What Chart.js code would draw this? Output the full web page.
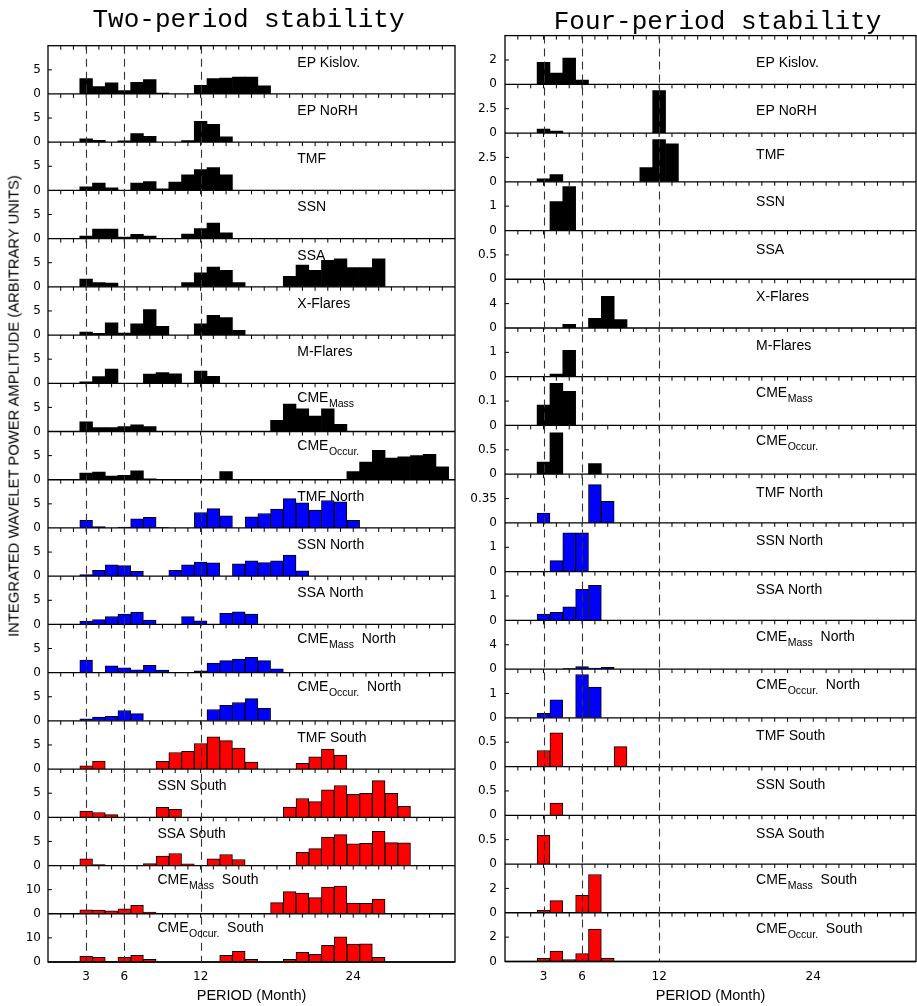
<!DOCTYPE html>
<html>
<head>
<meta charset="utf-8">
<script src="https://cdn.jsdelivr.net/npm/chart.js@4.4.1/dist/chart.umd.min.js"></script>
<style>
html, body { margin: 0; padding: 0; background: #fff; width: 917px; height: 1006px; overflow: hidden; position: relative; }
canvas { position: absolute; top: 0; }
#cL { left: 0; }
#cR { left: 460px; }
.title { position: absolute; font-family: "Liberation Mono", "DejaVu Sans Mono", monospace; font-size: 26px; line-height: 26px; white-space: nowrap; transform: translateX(-50%); color: #000; }
#ylab { position: absolute; left: 13.5px; top: 406px; font-family: "Liberation Sans", Arial, sans-serif; font-size: 14.8px; line-height: 1; white-space: nowrap; color: #000; transform: translate(-50%, -50%) rotate(-90deg); }
</style>
</head>
<body>
<canvas id="cL" width="460" height="1006"></canvas>
<canvas id="cR" width="457" height="1006"></canvas>
<div class="title" style="left:248.5px; top:6.6px;">Two-period stability</div>
<div class="title" style="left:717.5px; top:8.6px;">Four-period stability</div>
<div id="ylab">INTEGRATED WAVELET POWER AMPLITUDE (ARBITRARY UNITS)</div>
<script>
// ---------- categories / ticks ----------
const months = [1,2,3,4,5,6,7,8,9,10,11,12,13,14,15,16,17,18,19,20,21,22,23,24,25,26,27,28,29,30,31];
const xTickValues = [3, 6, 12, 24];
const refPeriods = [3, 6, 12];
const panelNames = ['EP Kislov.', 'EP NoRH', 'TMF', 'SSN', 'SSA', 'X-Flares', 'M-Flares',
  'CME_Mass', 'CME_Occur.', 'TMF North', 'SSN North', 'SSA North', 'CME_Mass  North',
  'CME_Occur.  North', 'TMF South', 'SSN South', 'SSA South', 'CME_Mass  South', 'CME_Occur.  South'];
const panelGroups = ['all','all','all','all','all','all','all','all','all',
  'north','north','north','north','north','south','south','south','south','south'];

// ---------- Two-period stability (values by month, starting at month 1) ----------
const L_EPKislov      = [0,0,3.2,1.5,2.3,0.7,2.4,3.0,0.2,0,0,1.8,3.2,3.3,3.5,3.5,1.7];
const L_EPNoRH        = [0,0,0.7,0.4,0,0.3,1.8,1.2,0,0,0.35,4.3,3.7,1.1];
const L_TMF           = [0,0,0.75,1.5,0.55,0,1.5,1.85,0.3,1.7,3.2,4.3,4.75,3.2];
const L_SSN           = [0,0,0.5,2.0,2.0,0.3,0.9,0.5,0,0,0.95,2.1,3.2,1.2];
const L_SSA           = [0,0,1.6,0.9,0.8,0,0,0,0,0,0.9,2.9,4.1,3.4,0.9,0,0,0,2.2,4.5,3.4,5.5,5.8,4.0,4.0,5.8];
const L_XFlares       = [0,0,0.6,0.35,2.55,0.4,2.35,5.3,1.8,0,0,2.35,4.1,3.6,1.0];
const L_MFlares       = [0,0,0.3,1.4,2.95,0,0,1.9,2.2,1.95,0,2.55,1.45];
const L_CMEMass       = [0,0,2.0,0.8,0.8,1.0,1.4,1.0,0,0,0,0,0,0,0,0,0,2.3,5.7,4.7,3.2,4.7,1.5];
const L_CMEOccur      = [0,0,1.4,1.6,0.75,0.9,1.85,0.2,0,0,0,0,0,1.7,0,0,0,0,0,0,0,0,0,1.7,3.65,6.1,4.5,4.75,5.0,5.25,2.7];
const L_TMFNorth      = [0,0,1.6,0.3,0,0.2,1.9,2.2,0.1,0,0,3.2,4.0,2.5,0,2.3,3.0,3.9,6.1,5.2,3.7,5.7,5.4,1.6];
const L_SSNNorth      = [0,0,0.35,1.2,2.35,2.2,1.0,0,0,1.2,2.35,2.9,2.75,0,2.55,3.2,2.8,3.2,4.4,1.1];
const L_SSANorth      = [0,0,0.7,1.0,1.65,2.15,2.55,0.9,0,0,1.6,0.75,0,2.3,2.6,2.15];
const L_CMEMassNorth  = [0,0,2.6,0,1.4,1.0,0.6,1.5,0.55,0,0,0.35,2.0,2.5,2.8,3.2,2.5,0.8];
const L_CMEOccurNorth = [0,0,0.4,0.8,0.95,2.15,1.5,0,0,0,0,0,2.35,3.2,3.8,4.6,2.6];
const L_TMFSouth      = [0,0,0.7,1.65,0,0,0,0,1.6,3.45,3.7,5.3,6.7,5.9,4.35,1.45,0,0,0,1.2,2.55,4.15,2.9];
const L_SSNSouth      = [0,0,1.3,1.0,0.55,0,0,0,2.05,1.65,0,0,0,0,0,0,0,0,2.1,3.9,3.25,5.7,6.6,4.75,5.0,7.6,5.0,2.3];
const L_SSASouth      = [0,0,1.4,0.2,0,0,0,0.4,1.95,2.5,0.35,0,1.4,2.3,1.25,0,0,0,0,2.75,3.5,5.9,6.4,4.5,4.6,7.1,4.75,4.7];
const L_CMEMassSouth  = [0,0,1.65,1.5,1.25,2.1,3.5,0.7,0,0,0,0,0,0,0,0,0,4.6,9.2,8.6,6.7,11.1,11.5,4.45,4.3,6.1];
const L_CMEOccurSouth = [0,0,2.35,1.95,0.3,1.95,2.8,1.1,0,0,0,0,0,2.8,4.45,1.1,0,0,1.1,4.0,3.2,6.9,10.4,7.4,7.5,1.95];
const leftAxisMax     = [10,10,10,10,10,10,10,10,10,10,10,10,10,10,10,10,10,20,20];

// ---------- Four-period stability ----------
const R_EPKislov      = [0,0,1.8,0.92,2.15,0.35];
const R_EPNoRH        = [0,0,0.4,0.2,0,0,0,0,0,0,0,4.36];
const R_TMF           = [0,0,0.3,0.73,0,0,0,0,0,0,1.46,4.34,3.9];
const R_SSN           = [0,0,0,1.19,1.8];
const R_SSA           = [];
const R_XFlares       = [0,0,0,0,0.6,0,1.6,5.2,1.37];
const R_MFlares       = [0,0,0,0.11,1.08];
const R_CMEMass       = [0,0,0.084,0.173,0.14];
const R_CMEOccur      = [0,0,0.25,0.85,0,0,0.22];
const R_TMFNorth      = [0,0,0.14,0,0,0,0.55,0.31];
const R_SSNNorth      = [0,0,0,0.45,1.59,1.59];
const R_SSANorth      = [0,0,0.26,0.33,0.56,1.27,1.44];
const R_CMEMassNorth  = [0,0,0,0,0.1,0.4,0.17,0.28];
const R_CMEOccurNorth = [0,0,0.19,0.74,0,1.78,1.26];
const R_TMFSouth      = [0,0,0.33,0.69,0,0,0,0,0.41];
const R_SSNSouth      = [0,0,0,0.25];
const R_SSASouth      = [0,0,0.59];
const R_CMEMassSouth  = [0,0,0.19,1.0,0,1.43,3.14];
const R_CMEOccurSouth = [0,0,0.27,0.85,0.16,0.66,2.66,0.27];
const rightAxisMax    = [4,5,5,2,1,8,2,0.2,1,0.7,2,2,8,2,1,1,1,4,4];

const leftSeries = [L_EPKislov, L_EPNoRH, L_TMF, L_SSN, L_SSA, L_XFlares, L_MFlares, L_CMEMass, L_CMEOccur,
  L_TMFNorth, L_SSNNorth, L_SSANorth, L_CMEMassNorth, L_CMEOccurNorth,
  L_TMFSouth, L_SSNSouth, L_SSASouth, L_CMEMassSouth, L_CMEOccurSouth];
const rightSeries = [R_EPKislov, R_EPNoRH, R_TMF, R_SSN, R_SSA, R_XFlares, R_MFlares, R_CMEMass, R_CMEOccur,
  R_TMFNorth, R_SSNNorth, R_SSANorth, R_CMEMassNorth, R_CMEOccurNorth,
  R_TMFSouth, R_SSNSouth, R_SSASouth, R_CMEMassSouth, R_CMEOccurSouth];

// ---------- styling / layout (kept apart from the data) ----------
const groupColor = { all: '#000000', north: '#0000ff', south: '#ff0000' };
const SANS = '"Liberation Sans", Arial, sans-serif';
const TICKFONT = { family: '"DejaVu Sans", sans-serif', size: 12 };
const rightLabelDrop = [31, 30.7, 26.4, 24.4, 23, 21.8, 22.4, 19.8, 20, 22.5, 22, 22.5, 20.5, 20, 22.5, 22.6, 23, 20, 20.4];
Chart.defaults.font.family = SANS;

const fmt = v => String(Math.round(v * 1000) / 1000);

function drawLabel(ctx, text, x, y) {
  const m = text.match(/^([^_]*)_(\S+)(.*)$/);
  ctx.fillStyle = '#000';
  ctx.textAlign = 'left';
  ctx.textBaseline = 'alphabetic';
  const mainF = '14px ' + SANS;
  const subF = '10.5px ' + SANS;
  ctx.font = mainF;
  if (!m) { ctx.fillText(text, x, y); return; }
  ctx.fillText(m[1], x, y);
  let cx = x + ctx.measureText(m[1]).width + 0.5;
  ctx.font = subF;
  ctx.fillText(m[2], cx, y + 5);
  cx += ctx.measureText(m[2]).width;
  ctx.font = mainF;
  ctx.fillText(m[3], cx, y);
}

const decor = {
  id: 'decor',
  afterDatasetsDraw(chart, args, o) {
    const { ctx, chartArea: a, scales } = chart;
    const xs = scales.x;
    const line = (x1, y1, x2, y2) => { ctx.beginPath(); ctx.moveTo(x1, y1); ctx.lineTo(x2, y2); ctx.stroke(); };
    ctx.save();
    ctx.strokeStyle = '#000';
    for (let i = 0; i < o.n; i++) {
      const ys = scales['y' + i];
      ctx.lineWidth = 1.3;
      const y0 = ys.getPixelForValue(0);
      line(a.left, y0, a.right, y0);
      ctx.lineWidth = 1;
      for (const mth of months) {
        const x = xs.getPixelForValue(mth);
        line(x, ys.top, x, ys.top + 4);
      }
      const t = ys.ticks[1];
      if (t) { const yt = ys.getPixelForValue(t.value); line(a.left, yt, a.left + 4, yt); }
    }
    ctx.lineWidth = 1.3;
    ctx.strokeRect(a.left, a.top, a.right - a.left, a.bottom - a.top);
    ctx.setLineDash([8, 5]);
    ctx.strokeStyle = '#333';
    ctx.lineWidth = 1.1;
    for (const p of refPeriods) {
      const x = Math.round(xs.getPixelForValue(p)) + 0.5;
      line(x, a.top, x, a.bottom);
    }
    ctx.setLineDash([]);
    for (let i = 0; i < o.n; i++) {
      const ys = scales['y' + i];
      const name = panelNames[i];
      const at = (o.lowNames && o.lowNames.includes(name)) ? o.lowAt : o.labelAt;
      const off = o.drops ? o.drops[i] : (name.includes('_') ? o.subOff : o.plainOff);
      drawLabel(ctx, name, xs.getPixelForValue(at), ys.top + off);
    }
    ctx.restore();
  }
};

function buildChart(id, series, maxes, geom) {
  const scales = {
    x: {
      type: 'linear', position: 'bottom', min: 0, max: 32, offset: false,
      afterBuildTicks: s => { s.ticks = xTickValues.map(v => ({ value: v })); },
      ticks: { autoSkip: false, maxRotation: 0, padding: 8, font: TICKFONT, color: '#000', callback: v => String(v) },
      grid: { display: false, drawTicks: false, offset: false },
      border: { display: false },
      title: { display: true, text: 'PERIOD (Month)', color: '#000', font: { family: SANS, size: 14.5 }, padding: { top: 0, bottom: 1.3 } },
      afterFit: s => { s.height = geom.xh; }
    }
  };
  for (let i = series.length - 1; i >= 0; i--) {
    const mx = maxes[i];
    scales['y' + i] = {
      type: 'linear', position: 'left', stack: 'col', stackWeight: 1,
      min: 0, max: mx,
      ticks: { stepSize: mx / 2, autoSkip: false, padding: geom.tp, font: TICKFONT, color: '#000',
        callback: (v, idx) => idx === 0 ? '0' : (idx === 1 ? fmt(v) : '') },
      grid: { display: false, drawTicks: false },
      border: { display: false },
      afterFit: s => { s.width = geom.yw; }
    };
  }
  const datasets = series.map((vals, i) => {
    const g = panelGroups[i];
    return {
      label: panelNames[i],
      yAxisID: 'y' + i,
      xAxisID: 'x',
      grouped: false,
      barPercentage: 1,
      categoryPercentage: 1,
      backgroundColor: groupColor[g],
      borderColor: '#000',
      borderWidth: g === 'all' ? 0 : 1,
      borderSkipped: 'bottom',
      data: vals.map((v, k) => v ? { x: months[k], y: v } : null).filter(Boolean)
    };
  });
  return new Chart(document.getElementById(id), {
    type: 'bar',
    data: { datasets },
    options: {
      responsive: false,
      animation: false,
      events: [],
      layout: { padding: geom.pad },
      plugins: {
        legend: { display: false },
        tooltip: { enabled: false },
        decor: geom.decor
      },
      scales
    },
    plugins: [decor]
  });
}

buildChart('cL', leftSeries, leftAxisMax, {
  pad: { top: 45.7, right: 5, bottom: 0, left: 0 }, yw: 48, xh: 44, tp: 7,
  decor: { n: 19, labelAt: 19.6, lowAt: 8.6, lowNames: ['SSN South', 'SSA South', 'CME_Mass  South', 'CME_Occur.  South'], plainOff: 21, subOff: 18.5 }
});
buildChart('cR', rightSeries, rightAxisMax, {
  pad: { top: 35.6, right: 1, bottom: 0, left: 0 }, yw: 45, xh: 44.5, tp: 8,
  decor: { n: 19, labelAt: 19.55, lowAt: 19.55, lowNames: [], drops: rightLabelDrop }
});
</script>
</body>
</html>
